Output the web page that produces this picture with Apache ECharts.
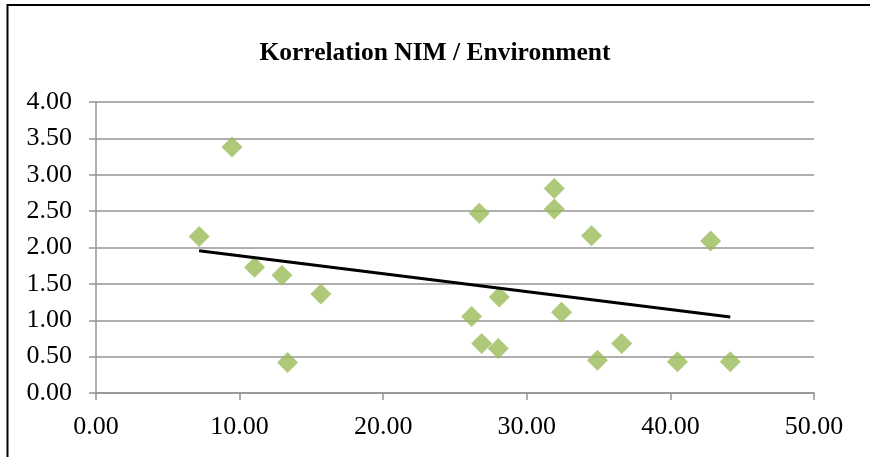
<!DOCTYPE html>
<html>
<head>
<meta charset="utf-8">
<script src="https://cdn.jsdelivr.net/npm/echarts@6/dist/echarts.min.js"></script>
<style>
  html, body { margin: 0; padding: 0; background: #fff; }
  #chart { width: 870px; height: 457px; }
</style>
</head>
<body>
<div id="chart"></div>
<script>
// Environment score (x) against NIM (y)
const environment = [7.18, 9.47, 11.04, 12.95, 13.34, 15.66, 26.69, 26.16, 26.86, 28.01,
                     28.08, 31.91, 31.91, 32.42, 34.51, 34.92, 36.61, 40.49, 42.80, 44.17];
const nim = [2.15, 3.38, 1.73, 1.62, 0.42, 1.36, 2.47, 1.05, 0.68, 0.61,
             1.32, 2.81, 2.53, 1.11, 2.16, 0.45, 0.68, 0.43, 2.09, 0.43];
const xTicks = [0, 10, 20, 30, 40, 50];
const yTicks = [0, 0.5, 1, 1.5, 2, 2.5, 3, 3.5, 4];

// Linear least-squares trend line across the data range
const n = environment.length;
const mx = environment.reduce((a, b) => a + b, 0) / n;
const my = nim.reduce((a, b) => a + b, 0) / n;
let sxy = 0, sxx = 0;
for (let i = 0; i < n; i++) {
  sxy += (environment[i] - mx) * (nim[i] - my);
  sxx += (environment[i] - mx) ** 2;
}
const slope = sxy / sxx;
const intercept = my - slope * mx;
const xMin = Math.min(...environment), xMax = Math.max(...environment);
const trend = [[xMin, intercept + slope * xMin], [xMax, intercept + slope * xMax]];

const points = environment.map((x, i) => [x, nim[i]]);
const font = '"Liberation Serif", "Times New Roman", serif';
const gridColor = '#949494';

const chart = echarts.init(document.getElementById('chart'));
chart.setOption({
  animation: false,
  backgroundColor: '#fff',
  graphic: [{
    type: 'rect',
    shape: { x: 7.5, y: 5, width: 900, height: 500 },
    style: { fill: 'none', stroke: '#000', lineWidth: 2 },
    z: 100
  }],
  title: {
    text: 'Korrelation NIM / Environment',
    left: 'center',
    top: 35,
    textStyle: { fontFamily: font, fontWeight: 'bold', fontSize: 25.5, color: '#000' }
  },
  grid: { left: 96, right: 56, top: 102, bottom: 64, containLabel: false },
  xAxis: {
    type: 'value',
    min: xTicks[0], max: xTicks[xTicks.length - 1], interval: 10,
    axisLine: { show: true, onZero: false, lineStyle: { color: gridColor, width: 1.5 } },
    axisTick: { show: true, length: 7, lineStyle: { color: gridColor, width: 1.5 } },
    splitLine: { show: false },
    axisLabel: { fontFamily: font, fontSize: 26, color: '#000', margin: 21,
                 formatter: v => v.toFixed(2) }
  },
  yAxis: {
    type: 'value',
    min: yTicks[0], max: yTicks[yTicks.length - 1], interval: 0.5,
    axisLine: { show: true, lineStyle: { color: gridColor, width: 1.5 } },
    axisTick: { show: true, length: 7, lineStyle: { color: gridColor, width: 1.5 } },
    splitLine: { show: true, lineStyle: { color: gridColor, width: 1.5 } },
    axisLabel: { fontFamily: font, fontSize: 26, color: '#000', margin: 24,
                 formatter: v => v.toFixed(2) }
  },
  series: [
    {
      type: 'scatter',
      data: points,
      symbol: 'diamond',
      symbolSize: 21,
      itemStyle: { color: '#9BBB59' },
      z: 3
    },
    {
      type: 'line',
      data: trend,
      symbol: 'none',
      lineStyle: { color: '#000', width: 3 },
      z: 4
    }
  ]
});
</script>
</body>
</html>
